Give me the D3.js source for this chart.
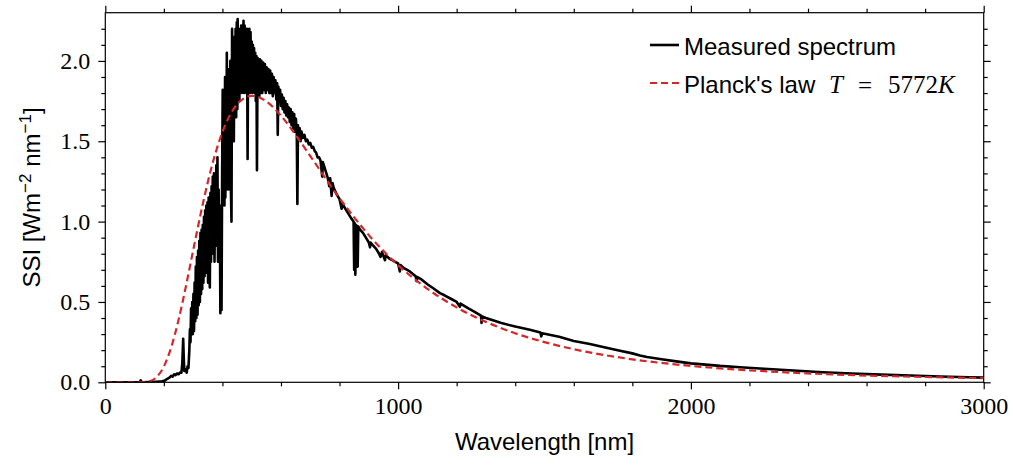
<!DOCTYPE html>
<html>
<head>
<meta charset="utf-8">
<script src="https://cdn.jsdelivr.net/npm/d3@7"></script>
<style>
  html, body { margin: 0; padding: 0; background: #fff; }
  svg { display: block; }
  .tick text { font-family: "Liberation Serif", "DejaVu Serif", serif; font-size: 24px; fill: #000; }
  .lbl { font-family: "Liberation Sans", Arial, sans-serif; font-size: 24px; fill: #000; }
  .math { font-family: "Liberation Serif", "DejaVu Serif", serif; font-size: 25px; fill: #000; }
</style>
</head>
<body>
<svg id="chart" width="1013" height="468"></svg>
<script>
// ---------- data ----------
const xTicks = [0, 1000, 2000, 3000];
const yTicks = [0.0, 0.5, 1.0, 1.5, 2.0];
const xDomain = [0, 3000];
const yDomain = [0, 2.3];

// Measured spectrum (wavelength nm, SSI W m^-2 nm^-1)
const measuredWavelength = [
  0, 100, 118, 121, 124, 150, 190, 200, 205, 210, 215, 220, 225, 230, 235, 240, 245, 250, 255, 260,
  263, 266, 268, 270, 275, 278, 281, 284, 287, 289, 291, 293, 295, 297, 299, 301, 303, 305, 307, 309,
  311, 313, 315, 317, 319, 321, 323, 325, 327, 329, 331, 333, 335, 337, 339, 341, 343, 345, 347, 349,
  351, 353, 355, 357, 359, 361, 363, 365, 367, 369, 371, 373, 375, 377, 379, 381, 383, 385, 387, 389,
  391, 393, 395, 397, 399, 401, 403, 405, 407, 409, 410, 412, 414, 415, 417, 419, 421, 423, 425, 427,
  429, 431, 433, 435, 437, 439, 441, 443, 445, 447, 449, 451, 452, 454, 456, 458, 460, 462, 464, 466,
  468, 470, 472, 474, 476, 478, 480, 482, 484, 486, 488, 490, 492, 494, 496, 498, 500, 502, 504, 506,
  508, 510, 512, 514, 516, 518, 520, 522, 524, 526, 528, 530, 533, 536, 539, 542, 545, 548, 551, 554,
  557, 560, 563, 566, 569, 572, 575, 578, 581, 584, 587, 589, 591, 594, 597, 600, 603, 606, 609, 612,
  615, 618, 621, 624, 627, 630, 633, 636, 639, 642, 645, 648, 651, 654, 656, 658, 661, 664, 667, 670,
  675, 680, 685, 690, 695, 700, 705, 710, 715, 720, 725, 730, 735, 741, 743, 750, 760, 765, 768, 773,
  776, 780, 790, 800, 807, 810, 820, 830, 840, 848, 850, 852, 854, 856, 860, 862, 864, 870, 880, 890,
  900, 904, 906, 915, 925, 935, 940, 945, 955, 958, 970, 980, 990, 1000, 1006, 1008, 1020, 1040, 1060, 1063,
  1066, 1080, 1100, 1120, 1143, 1160, 1180, 1200, 1211, 1213, 1240, 1260, 1283, 1285, 1287, 1300, 1350, 1400, 1450, 1486,
  1489, 1492, 1550, 1600, 1655, 1700, 1750, 1800, 1826, 1850, 1900, 1950, 2000, 2050, 2100, 2168, 2250, 2350, 2450, 2550,
  2650, 2750, 2850, 2950, 3000
];
const measuredSSI = [
  0, 0, 0, 0.012, 0, 0.001, 0.004, 0.01, 0.012, 0.02, 0.025, 0.03, 0.04, 0.035, 0.05, 0.045, 0.055, 0.05, 0.06, 0.06,
  0.12, 0.27, 0.15, 0.07, 0.08, 0.06, 0.10, 0.09, 0.20, 0.33, 0.25, 0.46, 0.30, 0.50, 0.30, 0.55, 0.32, 0.62, 0.38, 0.72,
  0.40, 0.78, 0.42, 0.82, 0.48, 0.88, 0.50, 0.93, 0.55, 0.95, 0.58, 0.98, 0.62, 1.03, 0.66, 1.07, 0.68, 1.10, 0.70, 1.12,
  0.62, 1.15, 0.72, 0.59, 1.18, 0.75, 1.22, 0.80, 1.28, 0.85, 1.30, 0.75, 1.25, 0.85, 1.35, 0.85, 1.40, 0.75, 1.20, 0.85,
  1.10, 0.43, 1.00, 0.45, 1.30, 1.82, 1.20, 1.75, 1.10, 1.90, 1.15, 1.85, 1.20, 2.05, 1.30, 1.95, 1.20, 1.90, 1.30, 2.00,
  1.20, 1.00, 2.20, 1.60, 2.15, 1.50, 2.10, 1.70, 2.20, 1.65, 2.24, 1.70, 2.26, 1.80, 2.20, 1.75, 2.18, 1.85, 2.22, 1.80,
  2.20, 1.85, 2.25, 1.80, 2.22, 1.85, 2.18, 1.80, 2.20, 1.39, 2.15, 1.85, 2.20, 1.80, 2.18, 1.85, 2.12, 1.80, 2.10, 1.85,
  2.08, 1.80, 2.05, 1.75, 2.03, 1.32, 2.02, 1.80, 2.00, 1.78, 2.01, 1.80, 2.00, 1.80, 1.99, 1.82, 1.98, 1.80, 1.96, 1.82,
  1.95, 1.80, 1.94, 1.80, 1.92, 1.78, 1.90, 1.80, 1.88, 1.76, 1.86, 1.54, 1.84, 1.75, 1.82, 1.72, 1.79, 1.70, 1.77, 1.68,
  1.75, 1.66, 1.73, 1.65, 1.71, 1.62, 1.70, 1.60, 1.68, 1.58, 1.67, 1.56, 1.64, 1.55, 1.11, 1.60, 1.52, 1.58, 1.50, 1.56,
  1.52, 1.54, 1.50, 1.51, 1.48, 1.49, 1.46, 1.465, 1.44, 1.43, 1.40, 1.40, 1.38, 1.28, 1.37, 1.33, 1.27, 1.22, 1.27, 1.16,
  1.24, 1.21, 1.17, 1.14, 1.08, 1.11, 1.08, 1.05, 1.02, 1.00, 0.70, 0.99, 0.67, 0.98, 0.97, 0.72, 0.97, 0.95, 0.93, 0.90,
  0.87, 0.84, 0.87, 0.85, 0.83, 0.80, 0.78, 0.81, 0.76, 0.79, 0.77, 0.76, 0.75, 0.74, 0.69, 0.73, 0.71, 0.69, 0.66, 0.63,
  0.655, 0.64, 0.61, 0.585, 0.555, 0.54, 0.52, 0.50, 0.47, 0.49, 0.46, 0.44, 0.415, 0.37, 0.41, 0.40, 0.37, 0.347, 0.327, 0.31,
  0.285, 0.305, 0.283, 0.257, 0.238, 0.22, 0.20, 0.18, 0.167, 0.158, 0.143, 0.13, 0.118, 0.11, 0.102, 0.094, 0.084, 0.073, 0.063, 0.055,
  0.048, 0.042, 0.036, 0.031, 0.029
];

// Planck's law curve T = 5772 K (wavelength nm, SSI)
const planckWavelength = [0, 100, 125, 150, 175, 200, 225, 250, 275, 300, 325, 350, 375, 400, 425, 450, 475, 500, 525, 550,
  600, 650, 700, 800, 900, 1000, 1100, 1200, 1300, 1400, 1500, 1600, 1800, 2000, 2250, 2500, 2750, 3000];
const planckSSI = [0, 0.00001, 0.0006, 0.0065, 0.032, 0.098, 0.217, 0.387, 0.595, 0.820, 1.042, 1.245, 1.418, 1.557, 1.660, 1.730, 1.769, 1.783, 1.774, 1.748,
  1.659, 1.540, 1.408, 1.146, 0.916, 0.729, 0.582, 0.466, 0.376, 0.305, 0.250, 0.206, 0.143, 0.102, 0.069, 0.048, 0.035, 0.026];

const seriesNames = ["Measured spectrum", "Planck's law"];

// ---------- layout ----------
const svg = d3.select("#chart");
const m = { left: 105.3, right: 983.7, top: 12.7, bottom: 382.3 };
const x = d3.scaleLinear().domain(xDomain).range([m.left, m.right]);
const y = d3.scaleLinear().domain(yDomain).range([m.bottom, m.top]);

const majorLen = 7, minorLen = 4;
const xMinor = d3.range(0, 3001, 200).filter(v => v % 1000 !== 0);
const yMinor = d3.range(0, 23).map(i => +(i * 0.1).toFixed(1)).filter(v => Math.round(v * 10) % 5 !== 0);

svg.append("defs").append("clipPath").attr("id", "clip")
  .append("rect").attr("x", m.left).attr("y", m.top).attr("width", m.right - m.left).attr("height", m.bottom - m.top);

const plot = svg.append("g").attr("clip-path", "url(#clip)");

const measured = measuredWavelength.map((w, i) => [w, measuredSSI[i]]);
const planck = planckWavelength.map((w, i) => [w, planckSSI[i]]);

plot.append("path").datum(measured)
  .attr("d", d3.line().x(d => x(d[0])).y(d => y(d[1])).curve(d3.curveLinear))
  .attr("fill", "none").attr("stroke", "#000").attr("stroke-width", 2.6).attr("stroke-linejoin", "round");

plot.append("path").datum(planck)
  .attr("d", d3.line().x(d => x(d[0])).y(d => y(d[1])).curve(d3.curveMonotoneX))
  .attr("fill", "none").attr("stroke", "#d62728").attr("stroke-width", 2.2).attr("stroke-dasharray", "7,4");

// ---------- axes ----------
function styleAxis(g) {
  g.select(".domain").remove();
  g.selectAll(".tick line").attr("stroke", "#000").attr("stroke-width", 1.2);
}
const fmtY = d3.format(".1f");
svg.append("g").attr("transform", `translate(0,${m.bottom})`)
  .call(d3.axisBottom(x).tickValues(xTicks).tickSize(majorLen).tickPadding(8).tickFormat(d3.format("d")))
  .call(styleAxis);
svg.append("g").attr("transform", `translate(0,${m.bottom})`)
  .call(d3.axisBottom(x).tickValues(xMinor).tickSize(minorLen).tickFormat(""))
  .call(styleAxis);
svg.append("g").attr("transform", `translate(0,${m.top})`)
  .call(d3.axisTop(x).tickValues(xTicks).tickSize(majorLen).tickFormat(""))
  .call(styleAxis);
svg.append("g").attr("transform", `translate(0,${m.top})`)
  .call(d3.axisTop(x).tickValues(xMinor).tickSize(minorLen).tickFormat(""))
  .call(styleAxis);
svg.append("g").attr("transform", `translate(${m.left},0)`)
  .call(d3.axisLeft(y).tickValues(yTicks).tickSize(majorLen).tickPadding(8).tickFormat(fmtY))
  .call(styleAxis);
svg.append("g").attr("transform", `translate(${m.left},0)`)
  .call(d3.axisLeft(y).tickValues(yMinor).tickSize(minorLen).tickFormat(""))
  .call(styleAxis);
svg.append("g").attr("transform", `translate(${m.right},0)`)
  .call(d3.axisRight(y).tickValues(yTicks).tickSize(majorLen).tickFormat(""))
  .call(styleAxis);
svg.append("g").attr("transform", `translate(${m.right},0)`)
  .call(d3.axisRight(y).tickValues(yMinor).tickSize(minorLen).tickFormat(""))
  .call(styleAxis);

svg.append("rect").attr("x", m.left).attr("y", m.top)
  .attr("width", m.right - m.left).attr("height", m.bottom - m.top)
  .attr("fill", "none").attr("stroke", "#000").attr("stroke-width", 1.2);

// ---------- labels ----------
svg.append("text").attr("class", "lbl")
  .attr("x", (m.left + m.right) / 2).attr("y", 450).attr("text-anchor", "middle")
  .text("Wavelength [nm]");

const yl = svg.append("text").attr("class", "lbl")
  .attr("transform", `translate(40,${(m.top + m.bottom) / 2}) rotate(-90)`)
  .attr("text-anchor", "middle");
yl.append("tspan").text("SSI [Wm");
yl.append("tspan").attr("dy", -9).attr("font-size", 17).text("\u22122");
yl.append("tspan").attr("dy", 9).text(" nm");
yl.append("tspan").attr("dy", -9).attr("font-size", 17).text("\u22121");
yl.append("tspan").attr("dy", 9).text("]");

// ---------- legend ----------
const lg = svg.append("g");
lg.append("line").attr("x1", 650).attr("x2", 679).attr("y1", 45).attr("y2", 45)
  .attr("stroke", "#000").attr("stroke-width", 2.6);
lg.append("text").attr("class", "lbl").attr("x", 684).attr("y", 55).text(seriesNames[0]);
lg.append("line").attr("x1", 650).attr("x2", 679).attr("y1", 83).attr("y2", 83)
  .attr("stroke", "#d62728").attr("stroke-width", 2.2).attr("stroke-dasharray", "7,4");
lg.append("text").attr("class", "lbl").attr("x", 684).attr("y", 93).text(seriesNames[1]);
lg.append("text").attr("class", "math").attr("x", 829).attr("y", 93).attr("font-style", "italic").text("T");
lg.append("text").attr("class", "math").attr("x", 858).attr("y", 94).attr("font-size", 31).text("=");
lg.append("text").attr("class", "math").attr("x", 888).attr("y", 93).text("5772");
lg.append("text").attr("class", "math").attr("x", 938).attr("y", 93).attr("font-style", "italic").text("K");
</script>
</body>
</html>
